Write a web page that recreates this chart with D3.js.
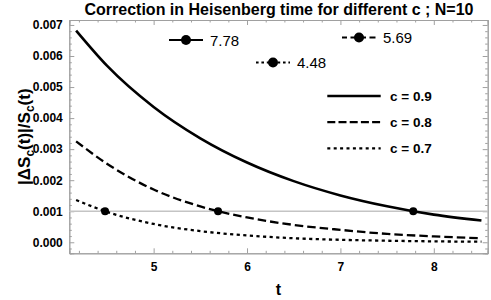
<!DOCTYPE html>
<html>
<head>
<meta charset="utf-8">
<script src="https://cdn.jsdelivr.net/npm/d3@7"></script>
<style>
  html, body { margin: 0; padding: 0; background: #fff; }
  svg text { font-family: "Liberation Sans", Arial, sans-serif; }
</style>
</head>
<body>
<div id="chart"></div>
<script>
/* Data */
var tValues   = [4.17, 4.5, 5.0, 5.5, 6.0, 6.5, 7.0, 7.5, 8.0, 8.51];
var series09  = [6.82, 5.69, 4.36, 3.35, 2.57, 1.97, 1.51, 1.16, 0.89, 0.70];   // x 1e-3
var series08  = [3.25, 2.53, 1.70, 1.155, 0.80, 0.56, 0.40, 0.27, 0.19, 0.13];  // x 1e-3
var series07  = [1.36, 0.98, 0.59, 0.36, 0.22, 0.13, 0.08, 0.05, 0.03, 0.018];  // x 1e-3
var cLabels   = ["c = 0.9", "c = 0.8", "c = 0.7"];
var crossT    = [7.78, 5.69, 4.48];
var crossText = ["7.78", "5.69", "4.48"];
var threshold = 0.001;
var xTicks    = [5, 6, 7, 8];
var yTicks    = [0, 0.001, 0.002, 0.003, 0.004, 0.005, 0.006, 0.007];

/* Layout */
var width = 491, height = 300;
var plot = { left: 69.3, right: 487.7, top: 20, bottom: 253.3 };
var dashes = ["none", "8.5,4", "3.2,3.4"];

var svg = d3.select("#chart").append("svg")
    .attr("width", width)
    .attr("height", height);

var x = d3.scaleLinear().domain([4.097, 8.577]).range([plot.left, plot.right]);
var y = d3.scaleLinear().domain([-0.000355, 0.00716]).range([plot.bottom, plot.top]);

// Minor tick values
var xMinor = d3.range(4.2, 8.58, 0.2).filter(function (v) { return Math.abs(v - Math.round(v)) > 1e-6; });
var yMinor = d3.range(-0.0002, 0.00716, 0.0002).filter(function (v) { return Math.abs(v * 1000 - Math.round(v * 1000)) > 1e-6; });

function styleAxis(g) {
    g.select(".domain").attr("stroke", "#a0a0a0").attr("stroke-width", 1);
    g.selectAll(".tick line").attr("stroke", "#a0a0a0");
    g.selectAll("text").attr("font-weight", "bold").attr("font-size", 12).attr("fill", "#000");
}

// Major axes with labels
svg.append("g")
    .attr("transform", "translate(0," + plot.bottom + ")")
    .call(d3.axisBottom(x).tickValues(xTicks).tickSize(-5).tickPadding(9).tickFormat(d3.format("d")))
    .call(styleAxis);
svg.append("g")
    .attr("transform", "translate(" + plot.left + ",0)")
    .call(d3.axisLeft(y).tickValues(yTicks).tickSize(-5).tickPadding(6.5).tickFormat(d3.format(".3f")))
    .call(styleAxis);
svg.append("g")
    .attr("transform", "translate(0," + plot.top + ")")
    .call(d3.axisTop(x).tickValues(xTicks).tickSize(-5).tickFormat(""))
    .call(styleAxis);
svg.append("g")
    .attr("transform", "translate(" + plot.right + ",0)")
    .call(d3.axisRight(y).tickValues(yTicks).tickSize(-5).tickFormat(""))
    .call(styleAxis);

// Minor ticks
[["bottom", plot.bottom], ["top", plot.top]].forEach(function (s) {
    svg.append("g")
        .attr("transform", "translate(0," + s[1] + ")")
        .call((s[0] === "bottom" ? d3.axisBottom(x) : d3.axisTop(x)).tickValues(xMinor).tickSize(-2.5).tickFormat(""))
        .call(styleAxis);
});
[["left", plot.left], ["right", plot.right]].forEach(function (s) {
    svg.append("g")
        .attr("transform", "translate(" + s[1] + ",0)")
        .call((s[0] === "left" ? d3.axisLeft(y) : d3.axisRight(y)).tickValues(yMinor).tickSize(-2.5).tickFormat(""))
        .call(styleAxis);
});

// Threshold line
svg.append("line")
    .attr("x1", plot.left).attr("x2", plot.right)
    .attr("y1", y(threshold)).attr("y2", y(threshold))
    .attr("stroke", "#c4c4c4").attr("stroke-width", 1.5);

// Curves
var line = d3.line()
    .x(function (d) { return x(d[0]); })
    .y(function (d) { return y(d[1] * 1e-3); })
    .curve(d3.curveMonotoneX);

[series09, series08, series07].forEach(function (s, i) {
    svg.append("path")
        .datum(tValues.map(function (t, j) { return [t, s[j]]; }))
        .attr("d", line)
        .attr("fill", "none")
        .attr("stroke", "#000")
        .attr("stroke-width", i === 0 ? 2.6 : 2.3)
        .attr("stroke-dasharray", dashes[i]);
});

// Crossing markers
svg.selectAll(".cross")
    .data(crossT)
    .enter().append("circle")
    .attr("cx", function (d) { return x(d); })
    .attr("cy", y(threshold))
    .attr("r", 4)
    .attr("fill", "#000");

// Crossing annotations (marker + value)
var annot = [
    { x: 186, y: 40, text: crossText[0] },
    { x: 359, y: 37.5, text: crossText[1] },
    { x: 273, y: 62.5, text: crossText[2] }
];
annot.forEach(function (a, i) {
    svg.append("line")
        .attr("x1", a.x - 17).attr("x2", a.x + 17)
        .attr("y1", a.y).attr("y2", a.y)
        .attr("stroke", "#000")
        .attr("stroke-width", i === 0 ? 2 : 1.8)
        .attr("stroke-dasharray", i === 0 ? "none" : (i === 1 ? "6,3.5" : "2.6,2.8"))
        .attr("stroke-dashoffset", i === 1 ? 1 : 0);
    svg.append("circle").attr("cx", a.x).attr("cy", a.y).attr("r", 5).attr("fill", "#000");
    svg.append("text")
        .attr("x", a.x + 24).attr("y", a.y + 5.5)
        .attr("font-size", 15)
        .text(a.text);
});

// Legend
cLabels.forEach(function (lab, i) {
    var ly = 96 + i * 26.2;
    svg.append("line")
        .attr("x1", 327.3).attr("x2", 380.7)
        .attr("y1", ly).attr("y2", ly)
        .attr("stroke", "#000")
        .attr("stroke-width", i === 0 ? 2.6 : 2.3)
        .attr("stroke-dasharray", i === 0 ? "none" : (i === 1 ? "8,3.2" : "3,3.4"));
    svg.append("text")
        .attr("x", 390).attr("y", ly + 4.8)
        .attr("font-size", 13.5)
        .attr("font-weight", "bold")
        .text(lab);
});

// Title
svg.append("text")
    .attr("x", 279).attr("y", 15)
    .attr("text-anchor", "middle")
    .attr("font-size", 16)
    .attr("font-weight", "bold")
    .text("Correction in Heisenberg time for different c ; N=10");

// Axis labels
svg.append("text")
    .attr("x", 278.5).attr("y", 295)
    .attr("text-anchor", "middle")
    .attr("font-size", 16)
    .attr("font-weight", "bold")
    .text("t");

var yl = svg.append("text")
    .attr("transform", "translate(30," + ((plot.top + plot.bottom) / 2) + ") rotate(-90)")
    .attr("text-anchor", "middle")
    .attr("font-size", 17)
    .attr("font-weight", "bold");
yl.append("tspan").text("|ΔS");
yl.append("tspan").attr("font-size", 12).attr("dy", 4).text("c");
yl.append("tspan").attr("dy", -4).text("(t)|/S");
yl.append("tspan").attr("font-size", 12).attr("dy", 4).text("c");
yl.append("tspan").attr("dy", -4).text("(t)");
</script>
</body>
</html>
